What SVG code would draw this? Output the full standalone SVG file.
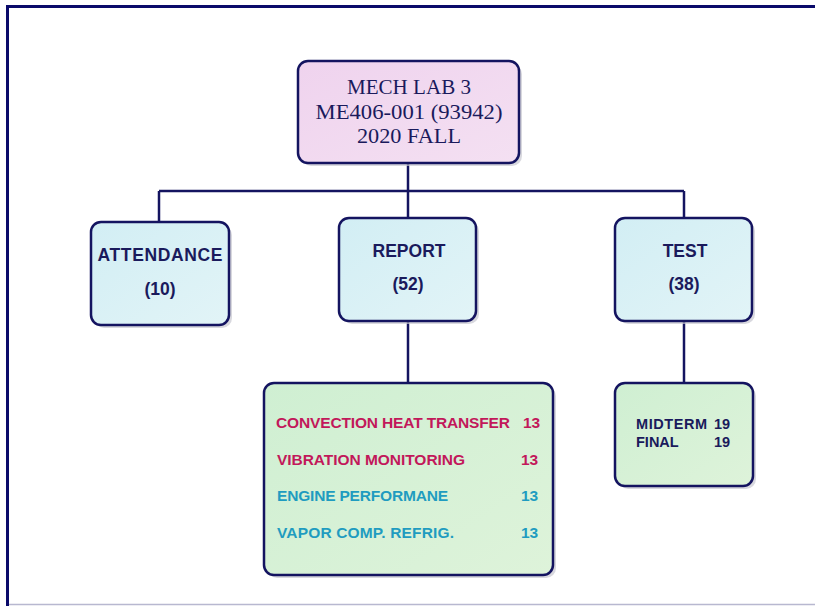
<svg xmlns="http://www.w3.org/2000/svg" width="815" height="606" viewBox="0 0 815 606">
<defs>
<linearGradient id="gBlue" x1="0" y1="0" x2="1" y2="1"><stop offset="0" stop-color="#d2eef4"/><stop offset="1" stop-color="#e2f4f7"/></linearGradient>
<linearGradient id="gGreen" x1="0" y1="0" x2="1" y2="1"><stop offset="0" stop-color="#cfefd2"/><stop offset="1" stop-color="#def3da"/></linearGradient>
<linearGradient id="gPink" x1="0" y1="0" x2="1" y2="1"><stop offset="0" stop-color="#efd3ee"/><stop offset="1" stop-color="#f4e0f2"/></linearGradient>
</defs>
<style>
.box{stroke:#141460;stroke-width:2.5}
.shadow{fill:#c8c8d0;opacity:0.7}
.conn{stroke:#141460;stroke-width:2.5;fill:none}
.title{font-family:"Liberation Serif",serif;font-size:21px;fill:#1a1a5c;text-anchor:middle}
.lbl{font-family:"Liberation Sans",Arial,sans-serif;font-weight:bold;font-size:17.5px;fill:#1a1a5c;text-anchor:middle}
.item{font-family:"Liberation Sans",Arial,sans-serif;font-weight:bold;font-size:15.5px}
.small{font-size:14.5px}
.red{fill:#c2185a}
.teal{fill:#1f9cc0}
.navy{fill:#1a1a5c}
</style>
<rect x="0" y="0" width="815" height="606" fill="#ffffff"/>
<g id="frame">
<line x1="6" y1="6.5" x2="815" y2="6.5" stroke="#0a0a6a" stroke-width="3"/>
<line x1="7.5" y1="5" x2="7.5" y2="606" stroke="#0a0a6a" stroke-width="3"/>
<line x1="9" y1="604.5" x2="815" y2="604.5" stroke="#b8b8d0" stroke-width="1.5"/>
</g>
<g id="connectors">
<line class="conn" x1="408" y1="163" x2="408" y2="191"/>
<line class="conn" x1="159" y1="191" x2="684" y2="191"/>
<line class="conn" x1="159" y1="191" x2="159" y2="222"/>
<line class="conn" x1="408" y1="191" x2="408" y2="218"/>
<line class="conn" x1="684" y1="191" x2="684" y2="218"/>
<line class="conn" x1="408" y1="321" x2="408" y2="383"/>
<line class="conn" x1="684" y1="321" x2="684" y2="383"/>
</g>
<g id="title">
<rect class="shadow" x="301" y="64" width="221" height="102" rx="10"/>
<rect class="box" x="298" y="61" width="221" height="102" rx="10" fill="url(#gPink)"/>
<text class="title" x="409" y="94" textLength="124" lengthAdjust="spacingAndGlyphs">MECH LAB 3</text>
<text class="title" x="409" y="119" textLength="187" lengthAdjust="spacingAndGlyphs">ME406-001 (93942)</text>
<text class="title" x="409" y="143" textLength="104" lengthAdjust="spacingAndGlyphs">2020 FALL</text>
</g>
<g id="attendance">
<rect class="shadow" x="94" y="225" width="138" height="103" rx="10"/>
<rect class="box" x="91" y="222" width="138" height="103" rx="10" fill="url(#gBlue)"/>
<text class="lbl" x="160" y="261" textLength="125">ATTENDANCE</text>
<text class="lbl" x="160" y="295">(10)</text>
</g>
<g id="report">
<rect class="shadow" x="342" y="221" width="137" height="103" rx="10"/>
<rect class="box" x="339" y="218" width="137" height="103" rx="10" fill="url(#gBlue)"/>
<text class="lbl" x="409" y="257">REPORT</text>
<text class="lbl" x="408" y="290">(52)</text>
</g>
<g id="test">
<rect class="shadow" x="618" y="221" width="137" height="103" rx="10"/>
<rect class="box" x="615" y="218" width="137" height="103" rx="10" fill="url(#gBlue)"/>
<text class="lbl" x="685" y="257">TEST</text>
<text class="lbl" x="684" y="290">(38)</text>
</g>
<g id="report-items">
<rect class="shadow" x="267" y="386" width="289" height="192" rx="10"/>
<rect class="box" x="264" y="383" width="289" height="192" rx="10" fill="url(#gGreen)"/>
<text class="item red" x="276" y="428" textLength="234">CONVECTION HEAT TRANSFER</text>
<text class="item red" x="523" y="428">13</text>
<text class="item red" x="277" y="465" textLength="188">VIBRATION MONITORING</text>
<text class="item red" x="521" y="465">13</text>
<text class="item teal" x="277" y="501" textLength="171">ENGINE PERFORMANE</text>
<text class="item teal" x="521" y="501">13</text>
<text class="item teal" x="277" y="538" textLength="177">VAPOR COMP. REFRIG.</text>
<text class="item teal" x="521" y="538">13</text>
</g>
<g id="test-items">
<rect class="shadow" x="618" y="386" width="138" height="103" rx="10"/>
<rect class="box" x="615" y="383" width="138" height="103" rx="10" fill="url(#gGreen)"/>
<text class="item small navy" x="636" y="429" textLength="71">MIDTERM</text>
<text class="item small navy" x="714" y="429">19</text>
<text class="item small navy" x="636" y="447">FINAL</text>
<text class="item small navy" x="714" y="447">19</text>
</g>
</svg>
